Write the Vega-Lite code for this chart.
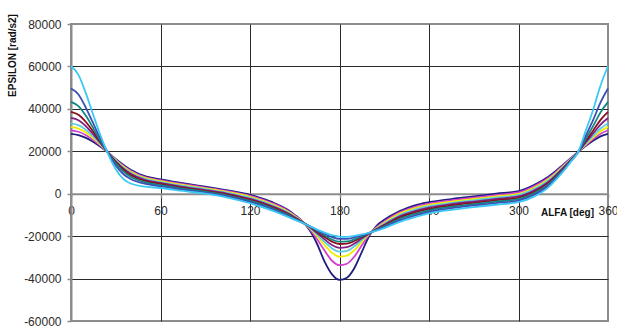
{
  "$schema": "https://vega.github.io/schema/vega-lite/v6.json",
  "width": 537,
  "height": 297,
  "autosize": {"type": "none"},
  "padding": {"left": 71, "top": 24, "right": 9, "bottom": 11},
  "background": "white",
  "config": {
    "font": "Liberation Sans",
    "locale": {"number": {"decimal": ".", "thousands": "", "grouping": [3], "currency": ["", ""], "minus": "-"}},
    "view": {"stroke": "#8c8c8c", "strokeWidth": 2},
    "axis": {
      "labelFont": "Liberation Sans",
      "labelFontSize": 12,
      "labelColor": "#2b2b2b",
      "titleFont": "Liberation Sans",
      "titleFontSize": 10,
      "titleFontWeight": "bold",
      "titleColor": "#111111",
      "gridColor": "#2a2a2a",
      "gridWidth": 1,
      "domainColor": "#8c8c8c",
      "domainWidth": 2,
      "tickColor": "#8c8c8c",
      "tickWidth": 1.5,
      "tickSize": 4
    }
  },
  "data": {
    "values": [
      {"alfa":0,"series":"s1","epsilon":28200},{"alfa":0,"series":"s2","epsilon":29900},{"alfa":0,"series":"s3","epsilon":31500},{"alfa":0,"series":"s4","epsilon":33200},{"alfa":0,"series":"s5","epsilon":35700},{"alfa":0,"series":"s6","epsilon":38600},{"alfa":0,"series":"s7","epsilon":43300},{"alfa":0,"series":"s8","epsilon":49600},{"alfa":0,"series":"s9","epsilon":60200},
      {"alfa":5,"series":"s1","epsilon":27600},{"alfa":5,"series":"s2","epsilon":29200},{"alfa":5,"series":"s3","epsilon":30700},{"alfa":5,"series":"s4","epsilon":32300},{"alfa":5,"series":"s5","epsilon":34600},{"alfa":5,"series":"s6","epsilon":37200},{"alfa":5,"series":"s7","epsilon":41300},{"alfa":5,"series":"s8","epsilon":46800},{"alfa":5,"series":"s9","epsilon":56000},
      {"alfa":10,"series":"s1","epsilon":26300},{"alfa":10,"series":"s2","epsilon":27600},{"alfa":10,"series":"s3","epsilon":28800},{"alfa":10,"series":"s4","epsilon":30100},{"alfa":10,"series":"s5","epsilon":31800},{"alfa":10,"series":"s6","epsilon":33800},{"alfa":10,"series":"s7","epsilon":36700},{"alfa":10,"series":"s8","epsilon":40500},{"alfa":10,"series":"s9","epsilon":47300},
      {"alfa":15,"series":"s1","epsilon":24400},{"alfa":15,"series":"s2","epsilon":25300},{"alfa":15,"series":"s3","epsilon":26100},{"alfa":15,"series":"s4","epsilon":26900},{"alfa":15,"series":"s5","epsilon":28000},{"alfa":15,"series":"s6","epsilon":29200},{"alfa":15,"series":"s7","epsilon":30800},{"alfa":15,"series":"s8","epsilon":33000},{"alfa":15,"series":"s9","epsilon":37000},
      {"alfa":20,"series":"s1","epsilon":22000},{"alfa":20,"series":"s2","epsilon":22500},{"alfa":20,"series":"s3","epsilon":22900},{"alfa":20,"series":"s4","epsilon":23300},{"alfa":20,"series":"s5","epsilon":23700},{"alfa":20,"series":"s6","epsilon":24100},{"alfa":20,"series":"s7","epsilon":24600},{"alfa":20,"series":"s8","epsilon":25600},{"alfa":20,"series":"s9","epsilon":27000},
      {"alfa":25,"series":"s1","epsilon":19300},{"alfa":25,"series":"s2","epsilon":19300},{"alfa":25,"series":"s3","epsilon":19300},{"alfa":25,"series":"s4","epsilon":19300},{"alfa":25,"series":"s5","epsilon":19200},{"alfa":25,"series":"s6","epsilon":19200},{"alfa":25,"series":"s7","epsilon":19100},{"alfa":25,"series":"s8","epsilon":19000},{"alfa":25,"series":"s9","epsilon":18500},
      {"alfa":30,"series":"s1","epsilon":16400},{"alfa":30,"series":"s2","epsilon":16100},{"alfa":30,"series":"s3","epsilon":15900},{"alfa":30,"series":"s4","epsilon":15600},{"alfa":30,"series":"s5","epsilon":15300},{"alfa":30,"series":"s6","epsilon":14900},{"alfa":30,"series":"s7","epsilon":14300},{"alfa":30,"series":"s8","epsilon":13300},{"alfa":30,"series":"s9","epsilon":11500},
      {"alfa":35,"series":"s1","epsilon":13700},{"alfa":35,"series":"s2","epsilon":13200},{"alfa":35,"series":"s3","epsilon":12800},{"alfa":35,"series":"s4","epsilon":12400},{"alfa":35,"series":"s5","epsilon":11900},{"alfa":35,"series":"s6","epsilon":11300},{"alfa":35,"series":"s7","epsilon":10500},{"alfa":35,"series":"s8","epsilon":9300},{"alfa":35,"series":"s9","epsilon":7000},
      {"alfa":40,"series":"s1","epsilon":11300},{"alfa":40,"series":"s2","epsilon":10800},{"alfa":40,"series":"s3","epsilon":10400},{"alfa":40,"series":"s4","epsilon":9900},{"alfa":40,"series":"s5","epsilon":9400},{"alfa":40,"series":"s6","epsilon":8800},{"alfa":40,"series":"s7","epsilon":8000},{"alfa":40,"series":"s8","epsilon":6900},{"alfa":40,"series":"s9","epsilon":4800},
      {"alfa":50,"series":"s1","epsilon":8200},{"alfa":50,"series":"s2","epsilon":7700},{"alfa":50,"series":"s3","epsilon":7300},{"alfa":50,"series":"s4","epsilon":6900},{"alfa":50,"series":"s5","epsilon":6400},{"alfa":50,"series":"s6","epsilon":5900},{"alfa":50,"series":"s7","epsilon":5300},{"alfa":50,"series":"s8","epsilon":4600},{"alfa":50,"series":"s9","epsilon":3300},
      {"alfa":60,"series":"s1","epsilon":6800},{"alfa":60,"series":"s2","epsilon":6300},{"alfa":60,"series":"s3","epsilon":5900},{"alfa":60,"series":"s4","epsilon":5500},{"alfa":60,"series":"s5","epsilon":5100},{"alfa":60,"series":"s6","epsilon":4600},{"alfa":60,"series":"s7","epsilon":4100},{"alfa":60,"series":"s8","epsilon":3500},{"alfa":60,"series":"s9","epsilon":2700},
      {"alfa":75,"series":"s1","epsilon":5000},{"alfa":75,"series":"s2","epsilon":4560},{"alfa":75,"series":"s3","epsilon":4110},{"alfa":75,"series":"s4","epsilon":3670},{"alfa":75,"series":"s5","epsilon":3220},{"alfa":75,"series":"s6","epsilon":2780},{"alfa":75,"series":"s7","epsilon":2340},{"alfa":75,"series":"s8","epsilon":1860},{"alfa":75,"series":"s9","epsilon":1300},
      {"alfa":90,"series":"s1","epsilon":3300},{"alfa":90,"series":"s2","epsilon":2900},{"alfa":90,"series":"s3","epsilon":2510},{"alfa":90,"series":"s4","epsilon":2110},{"alfa":90,"series":"s5","epsilon":1720},{"alfa":90,"series":"s6","epsilon":1320},{"alfa":90,"series":"s7","epsilon":920},{"alfa":90,"series":"s8","epsilon":500},{"alfa":90,"series":"s9","epsilon":0},
      {"alfa":105,"series":"s1","epsilon":1600},{"alfa":105,"series":"s2","epsilon":1190},{"alfa":105,"series":"s3","epsilon":780},{"alfa":105,"series":"s4","epsilon":380},{"alfa":105,"series":"s5","epsilon":-30},{"alfa":105,"series":"s6","epsilon":-440},{"alfa":105,"series":"s7","epsilon":-850},{"alfa":105,"series":"s8","epsilon":-1290},{"alfa":105,"series":"s9","epsilon":-1800},
      {"alfa":120,"series":"s1","epsilon":-500},{"alfa":120,"series":"s2","epsilon":-980},{"alfa":120,"series":"s3","epsilon":-1460},{"alfa":120,"series":"s4","epsilon":-1940},{"alfa":120,"series":"s5","epsilon":-2420},{"alfa":120,"series":"s6","epsilon":-2900},{"alfa":120,"series":"s7","epsilon":-3380},{"alfa":120,"series":"s8","epsilon":-3900},{"alfa":120,"series":"s9","epsilon":-4500},
      {"alfa":135,"series":"s1","epsilon":-4000},{"alfa":135,"series":"s2","epsilon":-4480},{"alfa":135,"series":"s3","epsilon":-4960},{"alfa":135,"series":"s4","epsilon":-5440},{"alfa":135,"series":"s5","epsilon":-5920},{"alfa":135,"series":"s6","epsilon":-6400},{"alfa":135,"series":"s7","epsilon":-6880},{"alfa":135,"series":"s8","epsilon":-7400},{"alfa":135,"series":"s9","epsilon":-8000},
      {"alfa":145,"series":"s1","epsilon":-7500},{"alfa":145,"series":"s2","epsilon":-7900},{"alfa":145,"series":"s3","epsilon":-8290},{"alfa":145,"series":"s4","epsilon":-8690},{"alfa":145,"series":"s5","epsilon":-9080},{"alfa":145,"series":"s6","epsilon":-9480},{"alfa":145,"series":"s7","epsilon":-9880},{"alfa":145,"series":"s8","epsilon":-10310},{"alfa":145,"series":"s9","epsilon":-10800},
      {"alfa":150,"series":"s1","epsilon":-10000},{"alfa":150,"series":"s2","epsilon":-10300},{"alfa":150,"series":"s3","epsilon":-10600},{"alfa":150,"series":"s4","epsilon":-10900},{"alfa":150,"series":"s5","epsilon":-11100},{"alfa":150,"series":"s6","epsilon":-11400},{"alfa":150,"series":"s7","epsilon":-11700},{"alfa":150,"series":"s8","epsilon":-12000},{"alfa":150,"series":"s9","epsilon":-12300},
      {"alfa":155,"series":"s1","epsilon":-12900},{"alfa":155,"series":"s2","epsilon":-13000},{"alfa":155,"series":"s3","epsilon":-13100},{"alfa":155,"series":"s4","epsilon":-13200},{"alfa":155,"series":"s5","epsilon":-13300},{"alfa":155,"series":"s6","epsilon":-13400},{"alfa":155,"series":"s7","epsilon":-13500},{"alfa":155,"series":"s8","epsilon":-13600},{"alfa":155,"series":"s9","epsilon":-13700},
      {"alfa":160,"series":"s1","epsilon":-17200},{"alfa":160,"series":"s2","epsilon":-16600},{"alfa":160,"series":"s3","epsilon":-16200},{"alfa":160,"series":"s4","epsilon":-15900},{"alfa":160,"series":"s5","epsilon":-15700},{"alfa":160,"series":"s6","epsilon":-15500},{"alfa":160,"series":"s7","epsilon":-15400},{"alfa":160,"series":"s8","epsilon":-15300},{"alfa":160,"series":"s9","epsilon":-15300},
      {"alfa":165,"series":"s1","epsilon":-23700},{"alfa":165,"series":"s2","epsilon":-21500},{"alfa":165,"series":"s3","epsilon":-20000},{"alfa":165,"series":"s4","epsilon":-19200},{"alfa":165,"series":"s5","epsilon":-18500},{"alfa":165,"series":"s6","epsilon":-17900},{"alfa":165,"series":"s7","epsilon":-17500},{"alfa":165,"series":"s8","epsilon":-17200},{"alfa":165,"series":"s9","epsilon":-16900},
      {"alfa":170,"series":"s1","epsilon":-32000},{"alfa":170,"series":"s2","epsilon":-26800},{"alfa":170,"series":"s3","epsilon":-24200},{"alfa":170,"series":"s4","epsilon":-22700},{"alfa":170,"series":"s5","epsilon":-21500},{"alfa":170,"series":"s6","epsilon":-20400},{"alfa":170,"series":"s7","epsilon":-19700},{"alfa":170,"series":"s8","epsilon":-19000},{"alfa":170,"series":"s9","epsilon":-18300},
      {"alfa":175,"series":"s1","epsilon":-38000},{"alfa":175,"series":"s2","epsilon":-31600},{"alfa":175,"series":"s3","epsilon":-27900},{"alfa":175,"series":"s4","epsilon":-25800},{"alfa":175,"series":"s5","epsilon":-24200},{"alfa":175,"series":"s6","epsilon":-22600},{"alfa":175,"series":"s7","epsilon":-21600},{"alfa":175,"series":"s8","epsilon":-20500},{"alfa":175,"series":"s9","epsilon":-19500},
      {"alfa":180,"series":"s1","epsilon":-40600},{"alfa":180,"series":"s2","epsilon":-33700},{"alfa":180,"series":"s3","epsilon":-29700},{"alfa":180,"series":"s4","epsilon":-27300},{"alfa":180,"series":"s5","epsilon":-25500},{"alfa":180,"series":"s6","epsilon":-23700},{"alfa":180,"series":"s7","epsilon":-22600},{"alfa":180,"series":"s8","epsilon":-21300},{"alfa":180,"series":"s9","epsilon":-20200},
      {"alfa":185,"series":"s1","epsilon":-39600},{"alfa":185,"series":"s2","epsilon":-33000},{"alfa":185,"series":"s3","epsilon":-29200},{"alfa":185,"series":"s4","epsilon":-26900},{"alfa":185,"series":"s5","epsilon":-25200},{"alfa":185,"series":"s6","epsilon":-23500},{"alfa":185,"series":"s7","epsilon":-22500},{"alfa":185,"series":"s8","epsilon":-21300},{"alfa":185,"series":"s9","epsilon":-20300},
      {"alfa":190,"series":"s1","epsilon":-35000},{"alfa":190,"series":"s2","epsilon":-29600},{"alfa":190,"series":"s3","epsilon":-26600},{"alfa":190,"series":"s4","epsilon":-24800},{"alfa":190,"series":"s5","epsilon":-23500},{"alfa":190,"series":"s6","epsilon":-22300},{"alfa":190,"series":"s7","epsilon":-21500},{"alfa":190,"series":"s8","epsilon":-20600},{"alfa":190,"series":"s9","epsilon":-19900},
      {"alfa":195,"series":"s1","epsilon":-27400},{"alfa":195,"series":"s2","epsilon":-24300},{"alfa":195,"series":"s3","epsilon":-22600},{"alfa":195,"series":"s4","epsilon":-21700},{"alfa":195,"series":"s5","epsilon":-21000},{"alfa":195,"series":"s6","epsilon":-20400},{"alfa":195,"series":"s7","epsilon":-20000},{"alfa":195,"series":"s8","epsilon":-19600},{"alfa":195,"series":"s9","epsilon":-19200},
      {"alfa":200,"series":"s1","epsilon":-19800},{"alfa":200,"series":"s2","epsilon":-19200},{"alfa":200,"series":"s3","epsilon":-18900},{"alfa":200,"series":"s4","epsilon":-18800},{"alfa":200,"series":"s5","epsilon":-18700},{"alfa":200,"series":"s6","epsilon":-18600},{"alfa":200,"series":"s7","epsilon":-18500},{"alfa":200,"series":"s8","epsilon":-18500},{"alfa":200,"series":"s9","epsilon":-18400},
      {"alfa":205,"series":"s1","epsilon":-15000},{"alfa":205,"series":"s2","epsilon":-15700},{"alfa":205,"series":"s3","epsilon":-16100},{"alfa":205,"series":"s4","epsilon":-16400},{"alfa":205,"series":"s5","epsilon":-16600},{"alfa":205,"series":"s6","epsilon":-16800},{"alfa":205,"series":"s7","epsilon":-17000},{"alfa":205,"series":"s8","epsilon":-17200},{"alfa":205,"series":"s9","epsilon":-17400},
      {"alfa":210,"series":"s1","epsilon":-12300},{"alfa":210,"series":"s2","epsilon":-13100},{"alfa":210,"series":"s3","epsilon":-13700},{"alfa":210,"series":"s4","epsilon":-14200},{"alfa":210,"series":"s5","epsilon":-14600},{"alfa":210,"series":"s6","epsilon":-15000},{"alfa":210,"series":"s7","epsilon":-15400},{"alfa":210,"series":"s8","epsilon":-15800},{"alfa":210,"series":"s9","epsilon":-16200},
      {"alfa":220,"series":"s1","epsilon":-8300},{"alfa":220,"series":"s2","epsilon":-8910},{"alfa":220,"series":"s3","epsilon":-9520},{"alfa":220,"series":"s4","epsilon":-10140},{"alfa":220,"series":"s5","epsilon":-10750},{"alfa":220,"series":"s6","epsilon":-11360},{"alfa":220,"series":"s7","epsilon":-11970},{"alfa":220,"series":"s8","epsilon":-12640},{"alfa":220,"series":"s9","epsilon":-13400},
      {"alfa":230,"series":"s1","epsilon":-5600},{"alfa":230,"series":"s2","epsilon":-6270},{"alfa":230,"series":"s3","epsilon":-6940},{"alfa":230,"series":"s4","epsilon":-7620},{"alfa":230,"series":"s5","epsilon":-8290},{"alfa":230,"series":"s6","epsilon":-8960},{"alfa":230,"series":"s7","epsilon":-9630},{"alfa":230,"series":"s8","epsilon":-10360},{"alfa":230,"series":"s9","epsilon":-11200},
      {"alfa":240,"series":"s1","epsilon":-4000},{"alfa":240,"series":"s2","epsilon":-4640},{"alfa":240,"series":"s3","epsilon":-5270},{"alfa":240,"series":"s4","epsilon":-5910},{"alfa":240,"series":"s5","epsilon":-6540},{"alfa":240,"series":"s6","epsilon":-7180},{"alfa":240,"series":"s7","epsilon":-7820},{"alfa":240,"series":"s8","epsilon":-8510},{"alfa":240,"series":"s9","epsilon":-9300},
      {"alfa":255,"series":"s1","epsilon":-2500},{"alfa":255,"series":"s2","epsilon":-3110},{"alfa":255,"series":"s3","epsilon":-3720},{"alfa":255,"series":"s4","epsilon":-4340},{"alfa":255,"series":"s5","epsilon":-4950},{"alfa":255,"series":"s6","epsilon":-5560},{"alfa":255,"series":"s7","epsilon":-6170},{"alfa":255,"series":"s8","epsilon":-6840},{"alfa":255,"series":"s9","epsilon":-7600},
      {"alfa":270,"series":"s1","epsilon":-1300},{"alfa":270,"series":"s2","epsilon":-1900},{"alfa":270,"series":"s3","epsilon":-2500},{"alfa":270,"series":"s4","epsilon":-3100},{"alfa":270,"series":"s5","epsilon":-3700},{"alfa":270,"series":"s6","epsilon":-4300},{"alfa":270,"series":"s7","epsilon":-4900},{"alfa":270,"series":"s8","epsilon":-5550},{"alfa":270,"series":"s9","epsilon":-6300},
      {"alfa":285,"series":"s1","epsilon":0},{"alfa":285,"series":"s2","epsilon":-620},{"alfa":285,"series":"s3","epsilon":-1250},{"alfa":285,"series":"s4","epsilon":-1870},{"alfa":285,"series":"s5","epsilon":-2500},{"alfa":285,"series":"s6","epsilon":-3120},{"alfa":285,"series":"s7","epsilon":-3740},{"alfa":285,"series":"s8","epsilon":-4420},{"alfa":285,"series":"s9","epsilon":-5200},
      {"alfa":300,"series":"s1","epsilon":1200},{"alfa":300,"series":"s2","epsilon":580},{"alfa":300,"series":"s3","epsilon":-50},{"alfa":300,"series":"s4","epsilon":-670},{"alfa":300,"series":"s5","epsilon":-1300},{"alfa":300,"series":"s6","epsilon":-1920},{"alfa":300,"series":"s7","epsilon":-2540},{"alfa":300,"series":"s8","epsilon":-3220},{"alfa":300,"series":"s9","epsilon":-4000},
      {"alfa":310,"series":"s1","epsilon":4000},{"alfa":310,"series":"s2","epsilon":3340},{"alfa":310,"series":"s3","epsilon":2680},{"alfa":310,"series":"s4","epsilon":2020},{"alfa":310,"series":"s5","epsilon":1360},{"alfa":310,"series":"s6","epsilon":700},{"alfa":310,"series":"s7","epsilon":40},{"alfa":310,"series":"s8","epsilon":-680},{"alfa":310,"series":"s9","epsilon":-1500},
      {"alfa":320,"series":"s1","epsilon":8000},{"alfa":320,"series":"s2","epsilon":7400},{"alfa":320,"series":"s3","epsilon":6800},{"alfa":320,"series":"s4","epsilon":6200},{"alfa":320,"series":"s5","epsilon":5600},{"alfa":320,"series":"s6","epsilon":5000},{"alfa":320,"series":"s7","epsilon":4400},{"alfa":320,"series":"s8","epsilon":3750},{"alfa":320,"series":"s9","epsilon":3000},
      {"alfa":325,"series":"s1","epsilon":10700},{"alfa":325,"series":"s2","epsilon":10200},{"alfa":325,"series":"s3","epsilon":9690},{"alfa":325,"series":"s4","epsilon":9190},{"alfa":325,"series":"s5","epsilon":8680},{"alfa":325,"series":"s6","epsilon":8180},{"alfa":325,"series":"s7","epsilon":7680},{"alfa":325,"series":"s8","epsilon":7130},{"alfa":325,"series":"s9","epsilon":6500},
      {"alfa":330,"series":"s1","epsilon":13700},{"alfa":330,"series":"s2","epsilon":13320},{"alfa":330,"series":"s3","epsilon":12930},{"alfa":330,"series":"s4","epsilon":12550},{"alfa":330,"series":"s5","epsilon":12160},{"alfa":330,"series":"s6","epsilon":11780},{"alfa":330,"series":"s7","epsilon":11400},{"alfa":330,"series":"s8","epsilon":10980},{"alfa":330,"series":"s9","epsilon":10500},
      {"alfa":335,"series":"s1","epsilon":16700},{"alfa":335,"series":"s2","epsilon":16500},{"alfa":335,"series":"s3","epsilon":16290},{"alfa":335,"series":"s4","epsilon":16090},{"alfa":335,"series":"s5","epsilon":15880},{"alfa":335,"series":"s6","epsilon":15680},{"alfa":335,"series":"s7","epsilon":15480},{"alfa":335,"series":"s8","epsilon":15260},{"alfa":335,"series":"s9","epsilon":15000},
      {"alfa":340,"series":"s1","epsilon":19700},{"alfa":340,"series":"s2","epsilon":19700},{"alfa":340,"series":"s3","epsilon":19700},{"alfa":340,"series":"s4","epsilon":19700},{"alfa":340,"series":"s5","epsilon":19700},{"alfa":340,"series":"s6","epsilon":19700},{"alfa":340,"series":"s7","epsilon":19700},{"alfa":340,"series":"s8","epsilon":19700},{"alfa":340,"series":"s9","epsilon":19700},
      {"alfa":345,"series":"s1","epsilon":22500},{"alfa":345,"series":"s2","epsilon":22870},{"alfa":345,"series":"s3","epsilon":23220},{"alfa":345,"series":"s4","epsilon":23590},{"alfa":345,"series":"s5","epsilon":24140},{"alfa":345,"series":"s6","epsilon":24780},{"alfa":345,"series":"s7","epsilon":25800},{"alfa":345,"series":"s8","epsilon":27180},{"alfa":345,"series":"s9","epsilon":29500},
      {"alfa":350,"series":"s1","epsilon":25000},{"alfa":350,"series":"s2","epsilon":25770},{"alfa":350,"series":"s3","epsilon":26490},{"alfa":350,"series":"s4","epsilon":27260},{"alfa":350,"series":"s5","epsilon":28390},{"alfa":350,"series":"s6","epsilon":29710},{"alfa":350,"series":"s7","epsilon":31840},{"alfa":350,"series":"s8","epsilon":34700},{"alfa":350,"series":"s9","epsilon":39500},
      {"alfa":355,"series":"s1","epsilon":27000},{"alfa":355,"series":"s2","epsilon":28270},{"alfa":355,"series":"s3","epsilon":29470},{"alfa":355,"series":"s4","epsilon":30740},{"alfa":355,"series":"s5","epsilon":32620},{"alfa":355,"series":"s6","epsilon":34800},{"alfa":355,"series":"s7","epsilon":38330},{"alfa":355,"series":"s8","epsilon":43060},{"alfa":355,"series":"s9","epsilon":51000},
      {"alfa":360,"series":"s1","epsilon":28200},{"alfa":360,"series":"s2","epsilon":29900},{"alfa":360,"series":"s3","epsilon":31500},{"alfa":360,"series":"s4","epsilon":33200},{"alfa":360,"series":"s5","epsilon":35700},{"alfa":360,"series":"s6","epsilon":38600},{"alfa":360,"series":"s7","epsilon":43300},{"alfa":360,"series":"s8","epsilon":49600},{"alfa":360,"series":"s9","epsilon":60200}
    ]
  },
  "mark": {"type": "line", "interpolate": "monotone", "strokeWidth": 1.8},
  "encoding": {
    "x": {
      "field": "alfa",
      "type": "quantitative",
      "scale": {"domain": [0, 360], "nice": false, "zero": false},
      "axis": {
        "title": "ALFA [deg]",
        "orient": "bottom",
        "offset": -127.3,
        "values": [0, 60, 120, 180, 240, 300, 360],
        "format": "d",
        "grid": true,
        "gridOpacity": {"condition": {"test": "datum.value === 0 || datum.value === 360", "value": 0}, "value": 1},
        "labelPadding": 8,
        "labelOverlap": false,
        "labelFlush": false,
        "titleX": 496,
        "titleY": 19,
        "titleAlign": "center",
        "titleBaseline": "middle"
      }
    },
    "y": {
      "field": "epsilon",
      "type": "quantitative",
      "scale": {"domain": [-60000, 80000], "nice": false, "zero": false},
      "axis": {
        "title": "EPSILON [rad/s2]",
        "values": [-60000, -40000, -20000, 0, 20000, 40000, 60000, 80000],
        "format": "d",
        "grid": true,
        "gridOpacity": {"condition": {"test": "datum.value === 80000 || datum.value === -60000 || datum.value === 0", "value": 0}, "value": 1},
        "labelPadding": 6,
        "titleAngle": -90,
        "titleX": -59,
        "titleY": 31,
        "titleAlign": "center",
        "titleBaseline": "middle"
      }
    },
    "color": {
      "field": "series",
      "type": "nominal",
      "scale": {
        "domain": ["s1", "s2", "s3", "s4", "s5", "s6", "s7", "s8", "s9"],
        "range": ["#1E1E80", "#D23FD2", "#F2EC00", "#5BCDE0", "#80207F", "#8A1020", "#108880", "#3C4FB5", "#3CC8F5"]
      },
      "legend": null
    }
  }
}
